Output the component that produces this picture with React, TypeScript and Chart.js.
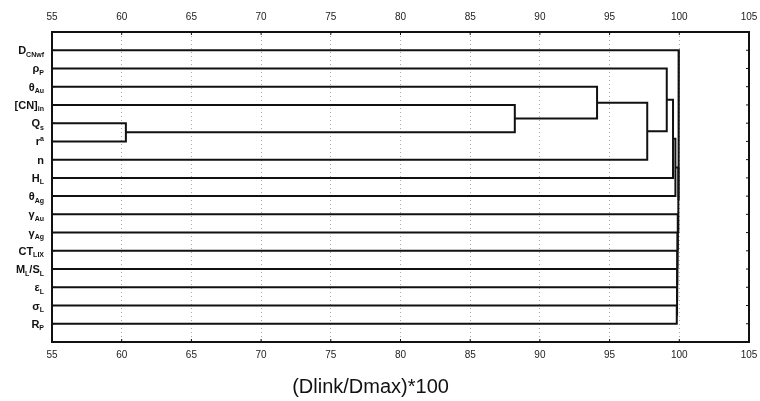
import React, { useEffect, useRef } from "react";
import { Chart, registerables } from "chart.js";

Chart.register(...registerables);

// Row labels, top to bottom (_{} = subscript, ^{} = superscript)
const rowLabels = [
  "D_{CNwf}",
  "ρ_{P}",
  "θ_{Au}",
  "[CN]_{in}",
  "Q_{s}",
  "r^{a}",
  "n",
  "H_{L}",
  "θ_{Ag}",
  "γ_{Au}",
  "γ_{Ag}",
  "CT_{LIX}",
  "M_{L}/S_{L}",
  "ε_{L}",
  "σ_{L}",
  "R_{P}",
];

// Linkage: ids 0..15 are rows, merge k creates cluster 16+k
const mergeLeft = [4, 3, 2, 18, 1, 20, 21, 14, 13, 12, 11, 10, 9, 22, 0];
const mergeRight = [5, 16, 17, 6, 19, 7, 8, 15, 23, 24, 25, 26, 27, 28, 29];
const mergeHeight = [60.3, 88.2, 94.1, 97.7, 99.1, 99.55, 99.72, 99.82, 99.84, 99.85, 99.86, 99.88, 99.9, 99.93, 99.97];

const xTicks = [55, 60, 65, 70, 75, 80, 85, 90, 95, 100, 105];
const xTitle = "(Dlink/Dmax)*100";

const X_MIN = 55;
const X_MAX = 105;

function parseLabel(s: string) {
  const parts: { t: string; k: number }[] = [];
  const re = /([_^])\{([^}]*)\}|([^_^]+)/g;
  let m: RegExpExecArray | null;
  while ((m = re.exec(s))) {
    if (m[3]) parts.push({ t: m[3], k: 0 });
    else parts.push({ t: m[2], k: m[1] === "_" ? 1 : 2 });
  }
  return parts;
}

function buildSegments() {
  const n = rowLabels.length;
  const nodeY: number[] = [];
  const nodeH: number[] = [];
  for (let i = 0; i < n; i++) {
    nodeY.push(i + 1);
    nodeH.push(X_MIN);
  }
  const segs: { x: number; y: number }[][] = [];
  for (let k = 0; k < mergeHeight.length; k++) {
    const a = mergeLeft[k];
    const b = mergeRight[k];
    const h = mergeHeight[k];
    segs.push([
      { x: nodeH[a], y: nodeY[a] },
      { x: h, y: nodeY[a] },
      { x: h, y: nodeY[b] },
      { x: nodeH[b], y: nodeY[b] },
    ]);
    nodeY.push((nodeY[a] + nodeY[b]) / 2);
    nodeH.push(h);
  }
  return segs;
}

const FONT = '"Liberation Sans", Arial, Helvetica, sans-serif';

const decorPlugin = {
  id: "decor",
  afterDraw(chart: any) {
    const { ctx, chartArea: ca, scales } = chart;
    ctx.save();
    // frame
    ctx.strokeStyle = "#111";
    ctx.lineWidth = 2;
    ctx.strokeRect(ca.left, ca.top, ca.right - ca.left, ca.bottom - ca.top);
    // small inward ticks
    ctx.lineWidth = 1;
    ctx.beginPath();
    for (let i = 0; i < rowLabels.length; i++) {
      const y = scales.y.getPixelForValue(i + 1);
      ctx.moveTo(ca.left, y);
      ctx.lineTo(ca.left + 3, y);
      ctx.moveTo(ca.right, y);
      ctx.lineTo(ca.right - 3, y);
    }
    for (const v of xTicks) {
      const x = scales.x.getPixelForValue(v);
      ctx.moveTo(x, ca.top);
      ctx.lineTo(x, ca.top + 3);
      ctx.moveTo(x, ca.bottom);
      ctx.lineTo(x, ca.bottom - 3);
    }
    ctx.stroke();

    // row labels with sub/superscripts
    ctx.fillStyle = "#111";
    ctx.textBaseline = "alphabetic";
    ctx.textAlign = "left";
    const mainFont = `bold 11px ${FONT}`;
    const smallFont = `bold 7px ${FONT}`;
    const rightX = ca.left - 8;
    rowLabels.forEach((lab, i) => {
      const parts = parseLabel(lab);
      let w = 0;
      for (const p of parts) {
        ctx.font = p.k === 0 ? mainFont : smallFont;
        w += ctx.measureText(p.t).width;
      }
      const base = scales.y.getPixelForValue(i + 1) + 4;
      let x = rightX - w;
      for (const p of parts) {
        ctx.font = p.k === 0 ? mainFont : smallFont;
        const dy = p.k === 1 ? 2.5 : p.k === 2 ? -4.5 : 0;
        ctx.fillText(p.t, x, base + dy);
        x += ctx.measureText(p.t).width;
      }
    });

    // axis title
    ctx.font = `20px ${FONT}`;
    ctx.textAlign = "center";
    ctx.fillStyle = "#111";
    ctx.fillText(xTitle, ca.left + (ca.right - ca.left) * 0.457, 393);
    ctx.restore();
  },
};

export default function App() {
  const ref = useRef<HTMLCanvasElement | null>(null);
  useEffect(() => {
    if (!ref.current) return;
    const segs = buildSegments();
    const datasets = segs.map((s) => ({
      data: s,
      borderColor: "#111",
      borderWidth: 2,
      pointRadius: 0,
      tension: 0,
      fill: false,
    }));
    const tickOpts = {
      color: "#222",
      font: { size: 10, family: FONT },
      autoSkip: false,
      stepSize: 5,
      maxRotation: 0,
    };
    const chart = new Chart(ref.current, {
      type: "line",
      data: { datasets },
      plugins: [decorPlugin],
      options: {
        animation: false,
        responsive: false,
        parsing: true,
        layout: { padding: { left: 0, right: 11, top: 0, bottom: 0 } },
        plugins: { legend: { display: false }, tooltip: { enabled: false }, title: { display: false } },
        scales: {
          x: {
            type: "linear",
            position: "bottom",
            min: X_MIN,
            max: X_MAX,
            afterBuildTicks: (s: any) => {
              s.ticks = xTicks.map((v) => ({ value: v }));
            },
            afterFit: (s: any) => {
              s.height = 59;
              s.paddingLeft = 0;
              s.paddingRight = 0;
            },
            ticks: { ...tickOpts, padding: 7 },
            grid: { color: "#aaa", lineWidth: 1, drawTicks: false },
            border: { display: false, dash: [1, 3] },
          },
          x2: {
            type: "linear",
            position: "top",
            min: X_MIN,
            max: X_MAX,
            afterBuildTicks: (s: any) => {
              s.ticks = xTicks.map((v) => ({ value: v }));
            },
            afterFit: (s: any) => {
              s.height = 32;
              s.paddingLeft = 0;
              s.paddingRight = 0;
            },
            ticks: { ...tickOpts, padding: 9 },
            grid: { drawOnChartArea: false, drawTicks: false },
            border: { display: false },
          },
          y: {
            type: "linear",
            min: 0,
            max: 17,
            reverse: true,
            afterFit: (s: any) => {
              s.width = 52;
              s.paddingTop = 0;
              s.paddingBottom = 0;
            },
            ticks: { display: false },
            grid: { display: false, drawTicks: false },
            border: { display: false },
          },
        },
      },
    } as any);
    return () => chart.destroy();
  }, []);
  return (
    <div style={{ position: "fixed", left: 0, top: 0, width: 760, height: 401, background: "#fff" }}>
      <canvas ref={ref} width={760} height={401} style={{ display: "block" }} />
    </div>
  );
}
